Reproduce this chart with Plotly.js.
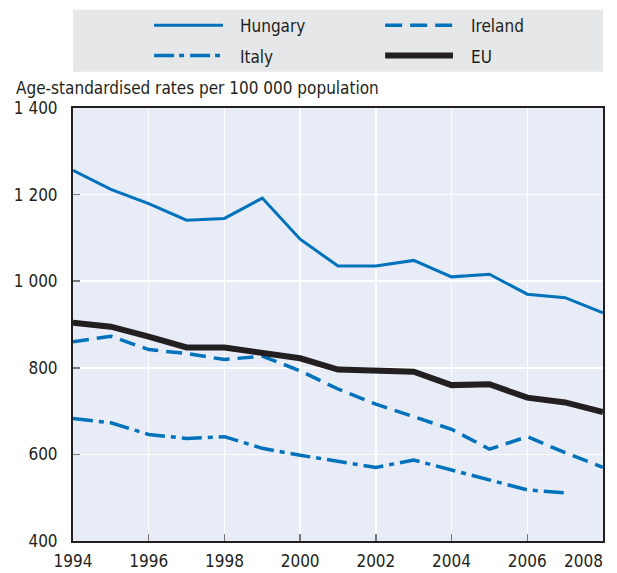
<!DOCTYPE html>
<html>
<head>
<meta charset="utf-8">
<script src="https://cdn.plot.ly/plotly-3.0.1.min.js"></script>
<style>html,body{margin:0;padding:0;background:#fff;}#chart{width:617px;height:573px;}</style>
</head>
<body>
<div id="chart"></div>
<script>
var years = [1994,1995,1996,1997,1998,1999,2000,2001,2002,2003,2004,2005,2006,2007,2008];
var hungary = [1256,1212,1179,1141,1145,1192,1097,1035,1035,1048,1010,1016,970,962,927];
var ireland = [860,873,842,833,819,827,793,751,716,686,658,612,641,604,570];
var italy   = [683,673,646,637,641,614,598,585,570,587,564,541,518,511,null];
var eu      = [904,895,872,847,847,836,822,796,793,791,760,762,731,720,698];
var yTickVals = [400,600,800,1000,1200,1400];
var yTickText = ['400','600','800','1 000','1 200','1 400'];
var xTickVals = [1994,1996,1998,2000,2002,2004,2006,2008];
var xTickText = ['1994','1996','1998','2000','2002','2004','2006',''];
var lastXLabel = '2008';
var seriesNames = ['Hungary','Ireland','Italy','EU'];

var FONT = 'Liberation Sans Narrow, DejaVu Sans Condensed, Arial Narrow, sans-serif';
var FS = 17;
var BLUE = '#0072bc';
var BLACK = '#231f20';

var traces = [
  {x: years, y: hungary, name: seriesNames[0], mode: 'lines', line: {color: BLUE, width: 3}},
  {x: years, y: ireland, name: seriesNames[1], mode: 'lines', line: {color: BLUE, width: 3.5, dash: '16px,8px'}},
  {x: years, y: italy, name: seriesNames[2], mode: 'lines', connectgaps: false, line: {color: BLUE, width: 3.5, dash: '20px,6px,5px,6px'}},
  {x: years, y: eu, name: seriesNames[3], mode: 'lines', line: {color: BLACK, width: 6}}
];

var legendShapes = [
  {type: 'rect', xref: 'paper', yref: 'paper', x0: 0, x1: 1, y0: 1.084, y1: 1.227, fillcolor: '#e6e7e8', line: {width: 0}, layer: 'below'},
  {type: 'line', xref: 'paper', yref: 'paper', x0: 0.153, x1: 0.283, y0: 1.191, y1: 1.191, line: {color: BLUE, width: 3}},
  {type: 'line', xref: 'paper', yref: 'paper', x0: 0.589, x1: 0.717, y0: 1.191, y1: 1.191, line: {color: BLUE, width: 3.5, dash: '17px,8px'}},
  {type: 'line', xref: 'paper', yref: 'paper', x0: 0.153, x1: 0.283, y0: 1.121, y1: 1.121, line: {color: BLUE, width: 3.5, dash: '20px,5px,5px,6px'}},
  {type: 'line', xref: 'paper', yref: 'paper', x0: 0.589, x1: 0.717, y0: 1.121, y1: 1.121, line: {color: BLACK, width: 6}}
];

function legText(txt, x, y) {
  return {text: txt, xref: 'paper', yref: 'paper', x: x, y: y, xanchor: 'left', yanchor: 'middle', yshift: -1, showarrow: false, font: {family: FONT, size: FS, color: BLACK}};
}

var layout = {
  width: 617, height: 573,
  margin: {l: 73, r: 14, t: 108, b: 32},
  paper_bgcolor: '#ffffff',
  plot_bgcolor: '#e8ecf6',
  showlegend: false,
  font: {family: FONT, size: FS, color: BLACK},
  xaxis: {
    range: [1994, 2008], tickvals: xTickVals, ticktext: xTickText,
    showgrid: true, gridcolor: '#ffffff', gridwidth: 1.5, zeroline: false,
    showline: true, linecolor: BLACK, linewidth: 2, mirror: true,
    ticks: 'inside', ticklen: 7, tickcolor: '#777777', tickwidth: 1.5,
    ticklabelstandoff: 4,
    tickfont: {family: FONT, size: FS, color: BLACK}
  },
  yaxis: {
    range: [400, 1400], tickvals: yTickVals, ticktext: yTickText,
    showgrid: true, gridcolor: '#ffffff', gridwidth: 1.5, zeroline: false,
    showline: true, linecolor: BLACK, linewidth: 2, mirror: true,
    ticks: 'inside', ticklen: 7, tickcolor: '#777777', tickwidth: 1.5,
    ticklabelstandoff: 10,
    tickfont: {family: FONT, size: FS, color: BLACK}
  },
  shapes: legendShapes,
  annotations: [
    legText(seriesNames[0], 0.311, 1.191),
    legText(seriesNames[1], 0.747, 1.191),
    legText(seriesNames[2], 0.311, 1.121),
    legText(seriesNames[3], 0.747, 1.121),
    {text: 'Age-standardised rates per 100 000 population', xref: 'paper', yref: 'paper', x: -0.111, y: 1.046, xanchor: 'left', yanchor: 'middle', showarrow: false, font: {family: FONT, size: FS, color: BLACK}},
    {text: lastXLabel, xref: 'x', yref: 'paper', x: xTickVals[xTickVals.length - 1], y: -0.047, xanchor: 'right', yanchor: 'middle', xshift: 2, showarrow: false, font: {family: FONT, size: FS, color: BLACK}}
  ]
};

Plotly.newPlot('chart', traces, layout, {displayModeBar: false, staticPlot: true});
</script>
</body>
</html>
